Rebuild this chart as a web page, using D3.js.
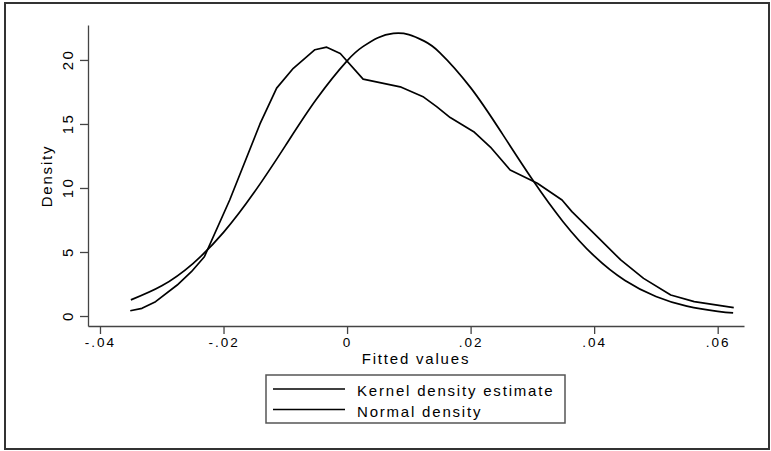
<!DOCTYPE html>
<html>
<head>
<meta charset="utf-8">
<script src="https://cdn.jsdelivr.net/npm/d3@7"></script>
<style>
body { margin: 0; background: #fff; }
text { font-family: "Liberation Sans", Arial, sans-serif; fill: #000; }
</style>
</head>
<body>
<div id="root"></div>
<script>
var width = 771;
var height = 451;

/* kernel density estimate */
var kernelX = [-0.0351, -0.0332, -0.0310, -0.0275, -0.0252, -0.0231, -0.0190, -0.0141, -0.0114, -0.0087,
	-0.0052, -0.0033, -0.0011, 0.0026, 0.0086, 0.0124, 0.0145, 0.0167, 0.0205, 0.0232,
	0.0264, 0.0308, 0.0348, 0.0364, 0.0405, 0.0443, 0.0480, 0.0524, 0.0562, 0.0626];
var kernelY = [0.41, 0.60, 1.12, 2.42, 3.46, 4.63, 9.06, 15.0, 17.8, 19.35,
	20.8, 21.0, 20.5, 18.5, 17.9, 17.1, 16.35, 15.5, 14.4, 13.2,
	11.4, 10.37, 9.06, 8.15, 6.2, 4.38, 2.94, 1.64, 1.12, 0.65];

/* normal density */
var normalX = [-0.035, -0.030, -0.025, -0.020, -0.015, -0.010, -0.005, 0.000, 0.0025, 0.005,
	0.0075, 0.010, 0.0125, 0.015, 0.020, 0.025, 0.030, 0.035, 0.040, 0.045,
	0.050, 0.055, 0.060, 0.0625];
var normalY = [1.26, 2.36, 4.08, 6.53, 9.68, 13.29, 16.91, 19.93, 21.02, 21.74,
	22.07, 21.98, 21.47, 20.58, 17.84, 14.33, 10.66, 7.35, 4.69, 2.77,
	1.52, 0.77, 0.36, 0.24];

var xTicks = [-0.04, -0.02, 0, 0.02, 0.04, 0.06];
var xTickLabels = ["-.04", "-.02", "0", ".02", ".04", ".06"];
var yTicks = [0, 5, 10, 15, 20];

var legendLabels = ["Kernel density estimate", "Normal density"];

var svg =
d3.select("#root")
.append("svg")
.attr("width", width)
.attr("height", height);

/* outer frame */
svg.append("rect")
.attr("x", 5)
.attr("y", 3)
.attr("width", 764)
.attr("height", 446)
.attr("fill", "white")
.attr("stroke", "#333")
.attr("stroke-width", 2);

var x = d3.scaleLinear()
.domain([-0.04194, 0.06426])
.range([88, 744]);

var y = d3.scaleLinear()
.domain([-0.78, 22.73])
.range([326, 25]);

/* axes */
var xAxis = svg.append("g")
.attr("transform", "translate(0,326)")
.call(d3.axisBottom(x).tickValues(xTicks).tickSize(8).tickSizeOuter(0)
	.tickFormat(function(d, i) { return xTickLabels[i]; }));

xAxis.selectAll("text")
.attr("font-size", "13.5px")
.attr("letter-spacing", "2px")
.attr("y", 11);

var yAxis = svg.append("g")
.attr("transform", "translate(88,0)")
.call(d3.axisLeft(y).tickValues(yTicks).tickSize(8).tickSizeOuter(0));

/* tick groups are already shifted to y(d), only rotate the label */
yAxis.selectAll("text")
.attr("font-size", "15px")
.attr("letter-spacing", "2.5px")
.attr("text-anchor", "middle")
.attr("x", 1)
.attr("y", 0)
.attr("dy", 0)
.attr("transform", "translate(-15,0) rotate(-90)");

svg.selectAll(".domain, .tick line")
.attr("stroke", "#444")
.attr("stroke-width", 1.3);

/* axis titles */
svg.append("text")
.attr("x", 416)
.attr("y", 364)
.attr("text-anchor", "middle")
.attr("font-size", "15px")
.attr("letter-spacing", "1.8px")
.text("Fitted values");

svg.append("text")
.attr("transform", "translate(52,176) rotate(-90)")
.attr("text-anchor", "middle")
.attr("font-size", "15px")
.attr("letter-spacing", "1.8px")
.text("Density");

/* curves */
var line = d3.line()
.x(function(d) { return x(d[0]); })
.y(function(d) { return y(d[1]); });

var smooth = d3.line()
.curve(d3.curveNatural)
.x(function(d) { return x(d[0]); })
.y(function(d) { return y(d[1]); });

svg.append("path")
.datum(kernelX.map(function(d, i) { return [d, kernelY[i]]; }))
.attr("fill", "none")
.attr("stroke", "black")
.attr("stroke-width", 1.7)
.attr("stroke-linejoin", "round")
.attr("d", line);

svg.append("path")
.datum(normalX.map(function(d, i) { return [d, normalY[i]]; }))
.attr("fill", "none")
.attr("stroke", "black")
.attr("stroke-width", 1.7)
.attr("d", smooth);

/* legend */
var legend = svg.append("g");

legend.append("rect")
.attr("x", 266)
.attr("y", 375)
.attr("width", 299)
.attr("height", 48)
.attr("fill", "none")
.attr("stroke", "#555")
.attr("stroke-width", 1.5);

legend.selectAll("line")
.data(legendLabels)
.enter()
.append("line")
.attr("x1", 273)
.attr("x2", 345)
.attr("y1", function(d, i) { return 389 + i * 20.5; })
.attr("y2", function(d, i) { return 389 + i * 20.5; })
.attr("stroke", "black")
.attr("stroke-width", 1.7);

legend.selectAll("text")
.data(legendLabels)
.enter()
.append("text")
.attr("x", 357)
.attr("y", function(d, i) { return 396 + i * 20.5; })
.attr("font-size", "15px")
.attr("letter-spacing", "1.8px")
.text(function(d) { return d; });
</script>
</body>
</html>
